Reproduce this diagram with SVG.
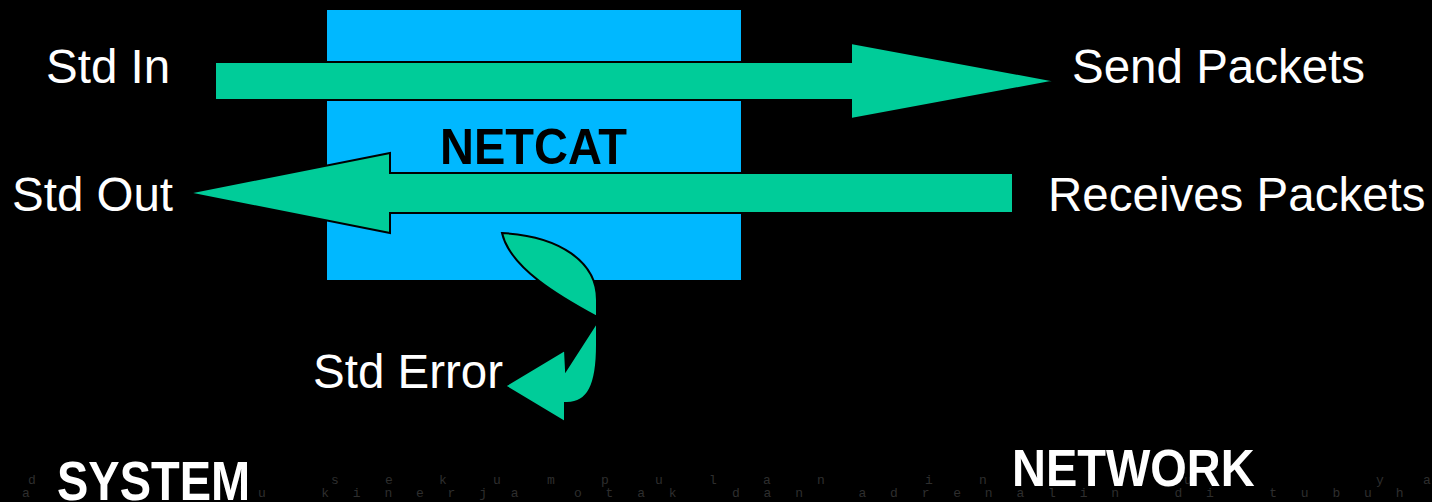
<svg xmlns="http://www.w3.org/2000/svg" width="1432" height="502" viewBox="0 0 1432 502">
<style>
.lbl{font-family:"Liberation Sans",Arial,sans-serif;font-size:47.5px;fill:#fff}
.bold{font-family:"Liberation Sans",Arial,sans-serif;font-weight:bold;font-size:47px}
.arrow{fill:#00CC99;stroke:#000;stroke-width:2;stroke-linejoin:miter}
.faint{font-family:"Liberation Mono","Courier New",monospace;font-size:13px;fill:#2e2e2e}
</style>
<rect x="0" y="0" width="1432" height="502" fill="#000"/>
<g id="bg-text">
<text class="faint" x="28" y="484">d</text>
<text class="faint" x="331" y="484" letter-spacing="46.2">sekumpulan in</text>
<text class="faint" x="1184" y="484">u</text>
<text class="faint" x="1376" y="484">y</text>
<text class="faint" x="1423" y="484">a</text>
<text class="faint" x="22" y="497">a</text>
<text class="faint" x="258" y="497" letter-spacing="23.8">u kinerja otak dan adrenalin di tubuh</text>
</g>
<g id="netcat">
<rect x="327" y="10" width="414" height="270" fill="#00B8FF"/>
<text class="bold" fill="#000" transform="translate(440 164) scale(1 1.08)">NETCAT</text>
</g>
<g id="connectors">
<polygon class="arrow" points="215,62 851,62 851,43 1056,81 851,119 851,100 215,100"/>
<polygon class="arrow" points="1013,173 390,173 390,153 188,193 390,233 390,213 1013,213"/>
<path class="arrow" d="M502,233 C560,236 597,262 597,300 L597,345 C597,385 588,403 567,403 L565,403 L565,422 L505,386 L565,350 L566,370 L597,322 L597,317 C560,297 510,268 502,233 Z"/>
</g>
<g id="std-in"><text class="lbl" x="46" y="83">Std In</text></g>
<g id="send-packets"><text class="lbl" x="1072" y="83">Send Packets</text></g>
<g id="std-out"><text class="lbl" x="12" y="211">Std Out</text></g>
<g id="receives-packets"><text class="lbl" x="1048" y="211">Receives Packets</text></g>
<g id="std-error"><text class="lbl" x="313" y="388">Std Error</text></g>
<g id="system"><text class="bold" fill="#fff" transform="translate(57 500) scale(1 1.18)">SYSTEM</text></g>
<g id="network"><text class="bold" fill="#fff" transform="translate(1012 486) scale(1 1.12)">NETWORK</text></g>
</svg>
